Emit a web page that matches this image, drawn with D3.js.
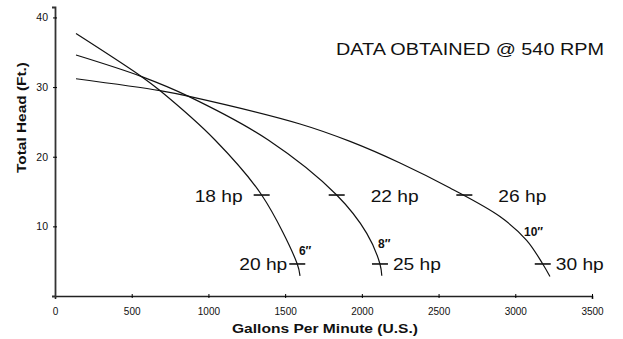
<!DOCTYPE html>
<html><head><meta charset="utf-8">
<script src="https://cdn.jsdelivr.net/npm/d3@7"></script>
<style>body{margin:0;background:#fff}svg{display:block}</style>
</head><body><svg id="c" width="623" height="339"></svg>
<script>
// Data
const xTicks = [0, 500, 1000, 1500, 2000, 2500, 3000, 3500];
const yTicks = [10, 20, 30, 40];
const curve6 = [[137,37.7],[565,31.5],[684,29.5],[1043,22.4],[1347,14.5],[1579,4.6],[1597,2.9]];
const curve8 = [[137,34.6],[565,31.5],[867,28.7],[1390,22.4],[1836,14.5],[2032,9.0],[2118,4.6],[2130,2.9]];
const curve10 = [[137,31.2],[684,29.5],[867,28.7],[1597,24.7],[1923,22.2],[2249,19.1],[2575,15.5],[2900,11.4],[3074,8.0],[3179,4.6],[3226,2.8]];
const hpMarks = [
  {gpm:1347, head:14.5, label:"18 hp"},
  {gpm:1579, head:4.6, label:"20 hp"},
  {gpm:1836, head:14.5, label:"22 hp"},
  {gpm:2118, head:4.6, label:"25 hp"},
  {gpm:2668, head:14.5, label:"26 hp"},
  {gpm:3179, head:4.6, label:"30 hp"}
];
const sizeLabels = [
  {gpm:1590, head:5.9, label:"6\u2033"},
  {gpm:2105, head:6.9, label:"8\u2033"},
  {gpm:3057, head:8.6, label:"10\u2033"}
];
const titleText = "DATA OBTAINED @ 540 RPM";
const xTitle = "Gallons Per Minute (U.S.)";
const yTitle = "Total Head (Ft.)";

const svg = d3.select("#c");
const x = d3.scaleLinear().domain([0, 3500]).range([55, 592]);
const y = d3.scaleLinear().domain([0, 41.5]).range([296, 7]);
const font = "'Liberation Sans', Arial, Helvetica, sans-serif";

// Axes
const gx = svg.append("g").attr("transform", `translate(0,${y(0)})`)
  .call(d3.axisBottom(x).tickValues(xTicks).tickFormat(d3.format("d")).tickSizeOuter(0).tickSize(3).tickPadding(9));
gx.selectAll(".tick line").attr("y1", -2).attr("y2", 2);
gx.select(".domain").attr("stroke", "#222").attr("stroke-width", 1.6);
gx.selectAll(".tick text").attr("font-family", font).attr("font-size", 10).attr("fill", "#111");
gx.selectAll(".tick").filter(d => d === 0).select("line").remove();

const gy = svg.append("g").attr("transform", `translate(${x(0)},0)`)
  .call(d3.axisLeft(y).tickValues(yTicks).tickSizeOuter(0).tickSize(3).tickPadding(4));
gy.selectAll(".tick line").attr("x1", -2).attr("x2", 2);
gy.select(".domain").attr("stroke", "#333").attr("stroke-width", 1.8);
gy.selectAll(".tick text").attr("font-family", font).attr("font-size", 10.5).attr("fill", "#111");

// Curves
const line = d3.line().x(d => x(d[0])).y(d => y(d[1])).curve(d3.curveCatmullRom.alpha(0.5));
[curve6, curve8, curve10].forEach(c => {
  svg.append("path").datum(c).attr("d", line)
    .attr("fill", "none").attr("stroke", "#111").attr("stroke-width", 1.2);
});

// hp marks
svg.selectAll(".hpm").data(hpMarks).enter().append("line")
  .attr("x1", d => x(d.gpm) - 8).attr("x2", d => x(d.gpm) + 8)
  .attr("y1", d => y(d.head)).attr("y2", d => y(d.head))
  .attr("stroke", "#111").attr("stroke-width", 1.6);

const hpLeft = new Set(["18 hp", "20 hp"]);
svg.selectAll(".hpl").data(hpMarks).enter().append("text")
  .attr("x", d => hpLeft.has(d.label) ? x(d.gpm) - (d.label === "18 hp" ? 19 : 10) : x(d.gpm) + (d.head > 10 ? 34 : 13))
  .attr("y", d => y(d.head) + 6.5)
  .attr("text-anchor", d => hpLeft.has(d.label) ? "end" : "start")
  .attr("font-family", font).attr("font-size", 16.5).attr("fill", "#111")
  .attr("textLength", 48).attr("lengthAdjust", "spacingAndGlyphs")
  .text(d => d.label);

svg.selectAll(".szl").data(sizeLabels).enter().append("text")
  .attr("x", d => x(d.gpm)).attr("y", d => y(d.head))
  .attr("font-family", font).attr("font-size", 12).attr("font-weight", "bold").attr("fill", "#111")
  .text(d => d.label);

// Titles
svg.append("text").attr("x", 336).attr("y", 55)
  .attr("font-family", font).attr("font-size", 16.5).attr("fill", "#111")
  .attr("textLength", 268).attr("lengthAdjust", "spacingAndGlyphs")
  .text(titleText);

svg.append("text").attr("x", 232).attr("y", 333)
  .attr("font-family", font).attr("font-size", 13).attr("font-weight", "bold").attr("fill", "#111")
  .attr("textLength", 186).attr("lengthAdjust", "spacingAndGlyphs")
  .text(xTitle);

svg.append("text").attr("transform", "translate(26,173) rotate(-90)")
  .attr("font-family", font).attr("font-size", 13).attr("font-weight", "bold").attr("fill", "#111")
  .attr("textLength", 111).attr("lengthAdjust", "spacingAndGlyphs")
  .text(yTitle);
</script></body></html>
